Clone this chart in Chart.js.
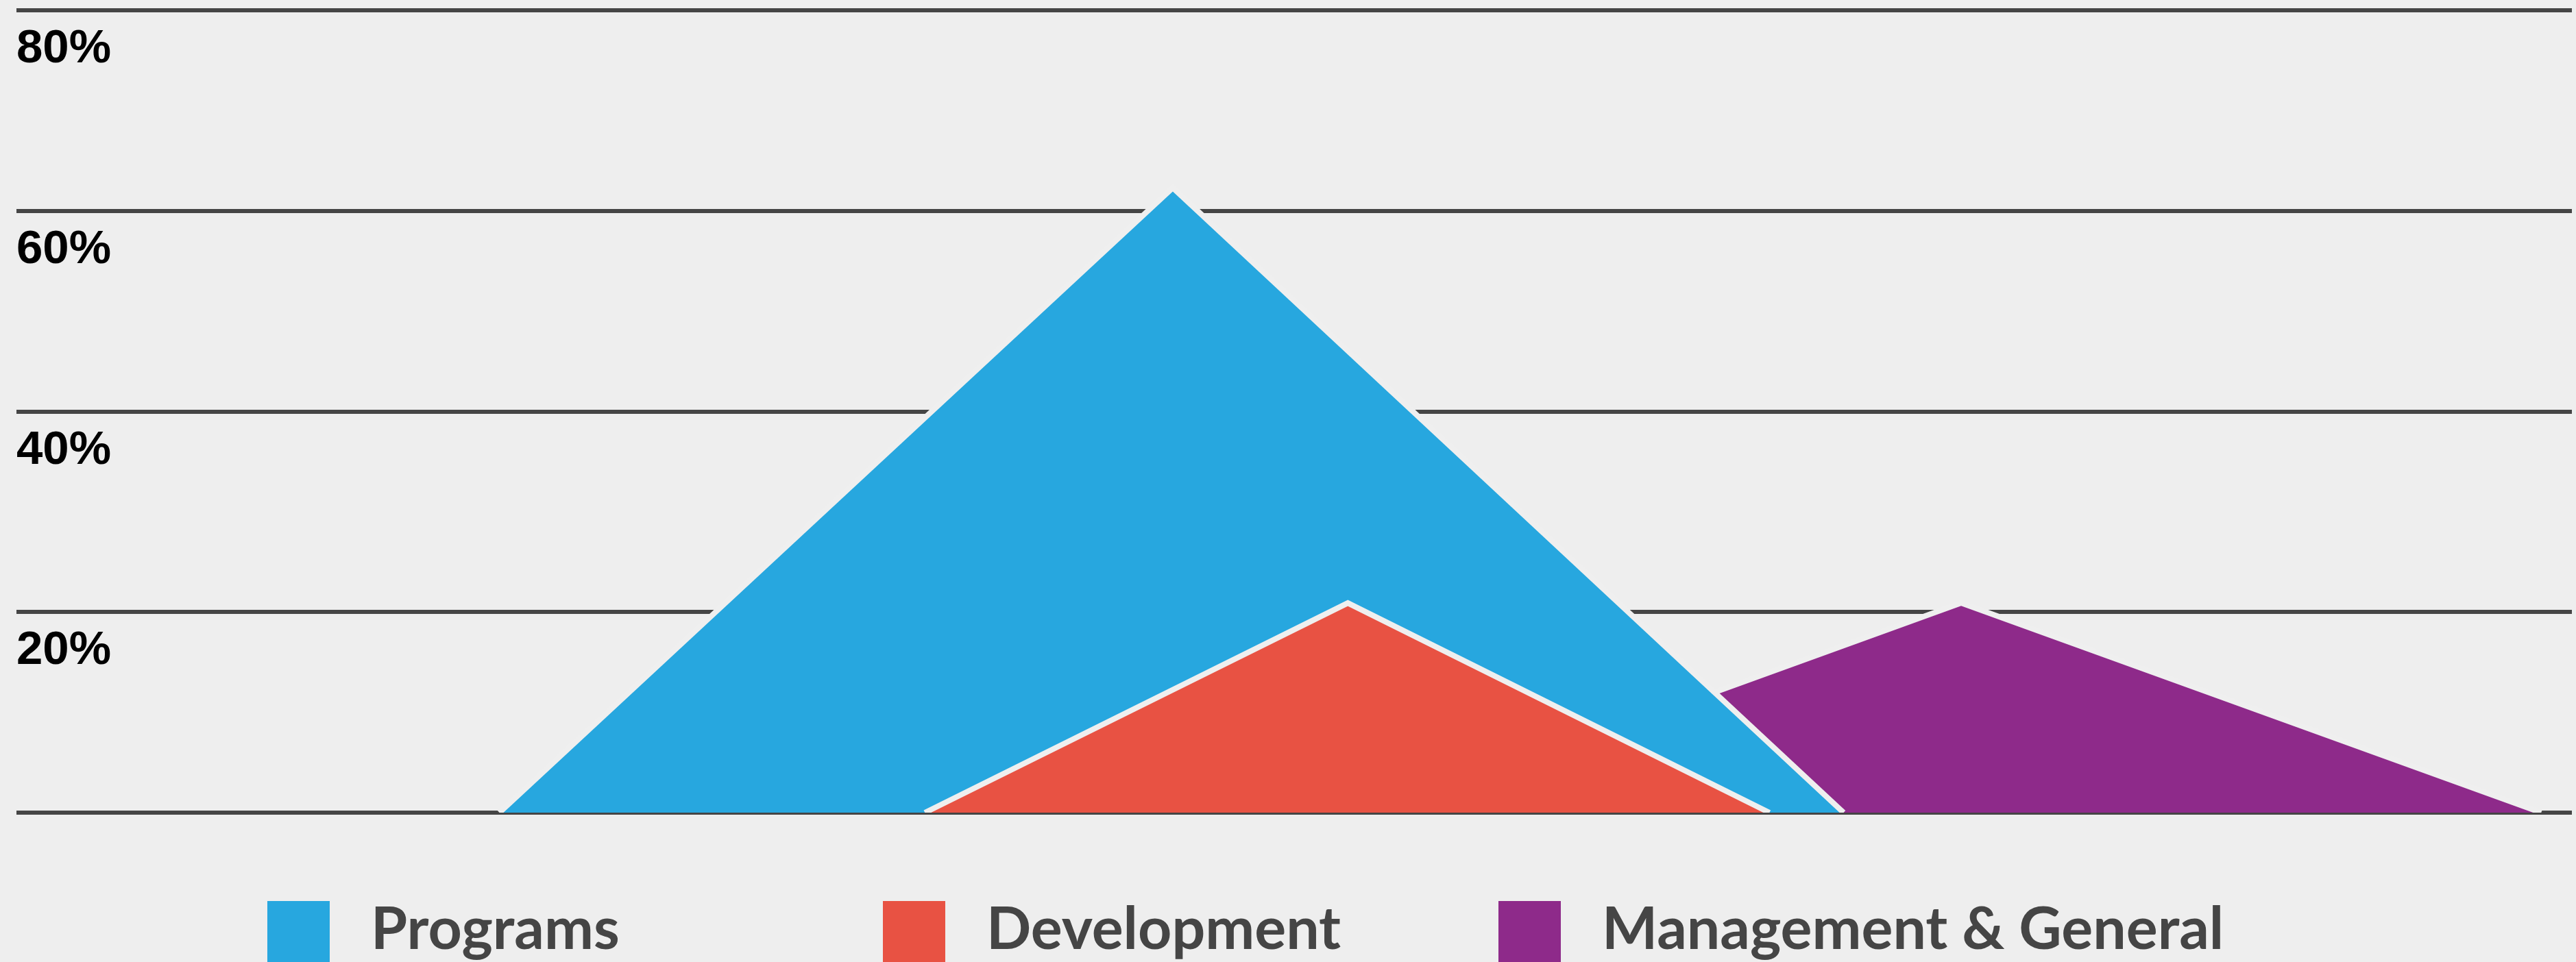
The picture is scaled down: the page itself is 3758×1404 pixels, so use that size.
<!DOCTYPE html>
<html>
<head>
<meta charset="utf-8">
<script src="https://cdn.jsdelivr.net/npm/chart.js@4.4.1/dist/chart.umd.min.js"></script>
<style>
  html, body { margin:0; padding:0; background:#eeeeee; overflow:hidden; }
  #wrap { position:relative; width:3758px; height:1404px; }
  #legend { position:absolute; left:0; top:0; width:3758px; height:1404px; pointer-events:none; }
  .lg-box { position:absolute; top:1315px; width:91px; height:91px; }
  .lg-text { position:absolute; top:1309px; font-family:Lato, sans-serif; font-weight:700; font-size:86px; line-height:1; color:#454545; white-space:nowrap; }
</style>
</head>
<body>
<div id="wrap">
  <canvas id="chart"></canvas>
  <div id="legend"></div>
</div>
<script>
// series (x = position across the plot, 0..100; y = percent)
const seriesNames = ['Programs', 'Development', 'Management & General'];
const seriesColors = ['#27a7df', '#e85243', '#8e2a8a'];
const programsX = [18.9, 45.25, 71.5];
const programsY = [0, 62.3, 0];
const developmentX = [35.55, 52.1, 68.6];
const developmentY = [0, 20.9, 0];
const managementX = [53.45, 76.1, 98.8];
const managementY = [0, 20.9, 0];
const yTicks = [0, 20, 40, 60, 80];

const pts = (xs, ys) => xs.map((x, i) => ({ x: x, y: ys[i] }));

function mkSet(i, xs, ys, order){
  return {
    label: seriesNames[i],
    data: pts(xs, ys),
    backgroundColor: seriesColors[i],
    borderColor: '#efefef',
    borderWidth: 8,
    borderJoinStyle: 'miter',
    fill: 'origin',
    tension: 0,
    pointRadius: 0,
    order: order
  };
}

const chartEl = document.getElementById('chart');
const chart = new Chart(chartEl.getContext('2d'), {
  type: 'line',
  data: {
    datasets: [
      mkSet(0, programsX, programsY, 1),
      mkSet(1, developmentX, developmentY, 0),
      mkSet(2, managementX, managementY, 2)
    ]
  },
  options: {
    animation: false,
    responsive: true,
    maintainAspectRatio: false,
    layout: { padding: { top: 15, left: 24, right: 6, bottom: 218 } },
    plugins: { legend: { display: false }, tooltip: { enabled: false } },
    scales: {
      x: { type: 'linear', min: 0, max: 100, display: false },
      y: {
        min: yTicks[0], max: yTicks[yTicks.length - 1],
        afterBuildTicks: (s) => { s.ticks = yTicks.map(v => ({ value: v })); },
        // labels sit inside the plot, so no extra room for them
        afterFit: (s) => { s.paddingTop = 0; s.paddingBottom = 0; },
        border: { display: false },
        grid: { color: '#454545', lineWidth: 6, drawTicks: false, tickLength: 0 },
        ticks: {
          mirror: true,
          padding: 0,
          labelOffset: 57,
          color: '#000000',
          font: { family: '"Liberation Sans", Arial, sans-serif', weight: 'bold', size: 69 },
          callback: (v) => v === 0 ? '' : v + '%'
        }
      }
    }
  }
});

// legend, fixed spacing like the original
const legendEl = document.getElementById('legend');
const legendLeft = [390, 1288, 2186];
seriesNames.forEach((name, i) => {
  const b = document.createElement('div');
  b.className = 'lg-box';
  b.style.left = legendLeft[i] + 'px';
  b.style.background = seriesColors[i];
  legendEl.appendChild(b);
  const t = document.createElement('div');
  t.className = 'lg-text';
  t.style.left = (legendLeft[i] + 151) + 'px';
  t.textContent = name;
  legendEl.appendChild(t);
});
</script>
</body>
</html>
